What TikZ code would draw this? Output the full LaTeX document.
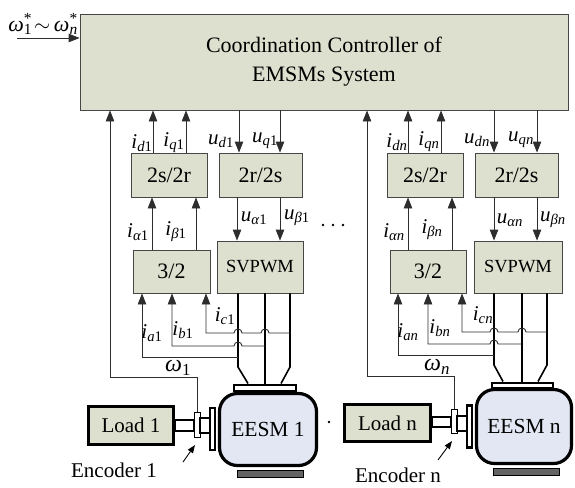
\documentclass[tikz,border=0pt]{standalone}
\usepackage{fontspec}
\setmainfont{Liberation Serif}
\usetikzlibrary{arrows.meta}

\definecolor{boxfill}{RGB}{221,224,206}
\definecolor{motorfill}{RGB}{226,231,243}
\definecolor{basefill}{RGB}{100,100,100}
\definecolor{wire}{RGB}{45,45,45}
\definecolor{edge}{RGB}{70,70,70}

% signal name: italic letter, subscript with italic part and upright index
\newcommand{\sgl}[3]{\textit{#1}\textsubscript{\textit{#2}#3}}
% reference speed: omega with a star above its subscript
\newcommand{\wref}[1]{\textit{ω}\rlap{\textsuperscript{*}}\textsubscript{#1}\hspace{0.1em}}

\begin{document}
\begin{tikzpicture}[x=1pt,y=-1pt,
  blk/.style={draw=edge,line width=0.9pt,fill=boxfill,inner sep=0pt,
    font=\fontsize{22}{29}\selectfont},
  sig/.style={font=\fontsize{21}{21}\selectfont,inner sep=0pt},
  arr/.style={draw=wire,line width=0.9pt,-{Triangle[length=11pt,width=8.5pt]}},
  phase/.style={draw=black,line width=1.6pt},
  heavy/.style={draw=black,line width=3.4pt,inner sep=0pt},
  part/.style={draw=black,line width=2pt,fill=white,inner sep=0pt},
  encarr/.style={draw=black,line width=0.9pt,-{Triangle[length=8pt,width=6pt]}},
  txt/.style={font=\fontsize{21}{21}\selectfont,inner sep=0pt},
]
\useasboundingbox (0,0) rectangle (575,487);

% ---------------- controller ----------------
\node[blk,minimum width=488pt,minimum height=96pt,align=center] (ctrl) at (324,62)
  {Coordination Controller of\\EMSMs System};
\coordinate (wsrc) at (17,38);
\draw[arr] (wsrc) -- (ctrl.west |- wsrc);
\node[sig,font=\fontsize{22}{22}\selectfont] (lwref) at (43,24)
  {\wref{1}$\sim$\,\wref{\textit{n}}};

% ---------------- drive 1 blocks ----------------
\node[blk,minimum width=76pt,minimum height=44pt] (s2r1) at (169,175) {2s/2r};
\node[blk,minimum width=83pt,minimum height=44pt] (r2s1) at (260.5,175) {2r/2s};
\node[blk,minimum width=77pt,minimum height=43pt] (t321) at (171.5,271.5) {3/2};
\node[blk,minimum width=86pt,minimum height=52pt,font=\fontsize{18.5}{20}\selectfont] (svp1) at (260,267) {SVPWM};

\draw[arr] (s2r1.north -| 153,0) -- (ctrl.south -| 153,0);
\draw[arr] (s2r1.north -| 186,0) -- (ctrl.south -| 186,0);
\draw[arr] (ctrl.south -| 239,0) -- (r2s1.north -| 239,0);
\draw[arr] (ctrl.south -| 280,0) -- (r2s1.north -| 280,0);
\draw[arr] (t321.north -| 152,0) -- (s2r1.south -| 152,0);
\draw[arr] (t321.north -| 196,0) -- (s2r1.south -| 196,0);
\draw[arr] (r2s1.south -| 237,0) -- (svp1.north -| 237,0);
\draw[arr] (r2s1.south -| 280,0) -- (svp1.north -| 280,0);

\node[sig] (lid1) at (142,143) {\sgl{i}{d}{1}};
\node[sig] (liq1) at (174,143) {\sgl{i}{q}{1}};
\node[sig] (lud1) at (221,141) {\sgl{u}{d}{1}};
\node[sig] (luq1) at (265,141) {\sgl{u}{q}{1}};
\node[sig] (lia1) at (138,232) {\sgl{i}{α}{1}};
\node[sig] (lib1) at (176,232) {\sgl{i}{β}{1}};
\node[sig] (lua1) at (254,218) {\sgl{u}{α}{1}};
\node[sig] (lub1) at (297,218) {\sgl{u}{β}{1}};

% ---------------- drive n blocks ----------------
\node[blk,minimum width=76pt,minimum height=44pt] (s2rn) at (425,175) {2s/2r};
\node[blk,minimum width=83pt,minimum height=44pt] (r2sn) at (516.5,175) {2r/2s};
\node[blk,minimum width=76pt,minimum height=43pt] (t32n) at (428,271.5) {3/2};
\node[blk,minimum width=88pt,minimum height=52pt,font=\fontsize{18.5}{20}\selectfont] (svpn) at (518,267) {SVPWM};

\draw[arr] (s2rn.north -| 408,0) -- (ctrl.south -| 408,0);
\draw[arr] (s2rn.north -| 441,0) -- (ctrl.south -| 441,0);
\draw[arr] (ctrl.south -| 494,0) -- (r2sn.north -| 494,0);
\draw[arr] (ctrl.south -| 537,0) -- (r2sn.north -| 537,0);
\draw[arr] (t32n.north -| 408,0) -- (s2rn.south -| 408,0);
\draw[arr] (t32n.north -| 452,0) -- (s2rn.south -| 452,0);
\draw[arr] (r2sn.south -| 494,0) -- (svpn.north -| 494,0);
\draw[arr] (r2sn.south -| 537,0) -- (svpn.north -| 537,0);

\node[sig] (lidn) at (397,142) {\sgl{i}{dn}{}};
\node[sig] (liqn) at (429,142) {\sgl{i}{qn}{}};
\node[sig] (ludn) at (477,140) {\sgl{u}{dn}{}};
\node[sig] (luqn) at (521,140) {\sgl{u}{qn}{}};
\node[sig] (lian) at (394,232) {\sgl{i}{αn}{}};
\node[sig] (libn) at (432,230) {\sgl{i}{βn}{}};
\node[sig] (luan) at (510,220) {\sgl{u}{αn}{}};
\node[sig] (lubn) at (553,220) {\sgl{u}{βn}{}};

% ellipses between the drives
\fill (323,225) circle (1.4) (333,225) circle (1.4) (343,225) circle (1.4);
\fill (329,422) circle (1.3);

% ---------------- machine 1 ----------------
\node[part,minimum width=19pt,minimum height=11pt] (sha1) at (184.5,425.5) {};
\node[heavy,fill=boxfill,minimum width=85pt,minimum height=38pt,font=\fontsize{21}{21}\selectfont] (load1) at (131,425.5) {Load 1};
\node[part,line width=1pt,minimum width=6pt,minimum height=25pt] (enc1) at (197,424.5) {};
\node[part,minimum width=10pt,minimum height=15pt] (shb1) at (205,425.5) {};
\node[part,line width=2.2pt,minimum width=5pt,minimum height=42pt] (fla1) at (212.5,429) {};
\node[heavy,line width=3.2pt,fill=motorfill,rounded corners=18pt,minimum width=97pt,minimum height=72pt,font=\fontsize{21.5}{21.5}\selectfont] (mot1) at (268,429.5) {EESM 1};
\node[part,minimum width=62pt,minimum height=6pt] (pla1) at (265,387.5) {};
\node[draw=black,line width=1pt,fill=basefill,inner sep=0pt,minimum width=66pt,minimum height=7pt] (bas1) at (270,473.5) {};

% phase leads 1
\draw[phase] (svp1.south -| 238,0) -- (238,367) -- (pla1.north -| 248,0);
\draw[phase] (svp1.south -| 265,0) -- (pla1.north -| 265,0);
\draw[phase] (svp1.south -| 290,0) -- (290,367) -- (pla1.north -| 281,0);

% current feedback 1 (with hops over the leads)
\draw[arr] (290,333) -- (269,333) .. controls +(0,-5.3) and +(0,-5.3) .. (261,333)
  -- (242,333) .. controls +(0,-5.3) and +(0,-5.3) .. (234,333)
  -- (206,333) -- (t321.south -| 206,0);
\draw[arr] (265,346) -- (242,346) .. controls +(0,-5.3) and +(0,-5.3) .. (234,346)
  -- (172,346) -- (t321.south -| 172,0);
\draw[arr] (238,357) -- (142,357) -- (t321.south -| 142,0);
\node[sig] (lia) at (152,333) {\sgl{i}{a}{1}};
\node[sig] (lib) at (183,330) {\sgl{i}{b}{1}};
\node[sig] (lic) at (225,316) {\sgl{i}{c}{1}};

% speed feedback 1
\draw[arr] (enc1.north) |- (110,377) -- (ctrl.south -| 110,0);
\node[sig,font=\fontsize{24}{24}\selectfont] (lw1) at (178,368) {\textit{ω}\textsubscript{1}};

% encoder 1 pointer
\coordinate (ep1) at (183,462);
\coordinate (eh1) at (195,445);
\draw[encarr] (ep1) -- (eh1);
\node[txt] (encl1) at (114,470) {Encoder 1};

% ---------------- machine n ----------------
\node[part,minimum width=19pt,minimum height=10pt] (shan) at (441.5,422) {};
\node[heavy,fill=boxfill,minimum width=86pt,minimum height=37pt,font=\fontsize{21}{21}\selectfont] (loadn) at (387.5,423) {Load n};
\node[part,line width=1pt,minimum width=6pt,minimum height=24pt] (encn) at (454,421) {};
\node[part,minimum width=10pt,minimum height=15pt] (shbn) at (462,423) {};
\node[part,line width=2.2pt,minimum width=5pt,minimum height=42pt] (flan) at (469.5,426.5) {};
\node[heavy,line width=3.2pt,fill=motorfill,rounded corners=18pt,minimum width=95pt,minimum height=74pt,font=\fontsize{21.5}{21.5}\selectfont] (motn) at (524,426.5) {EESM n};
\node[part,minimum width=61pt,minimum height=5pt] (plan) at (522,385) {};
\node[draw=black,line width=1pt,fill=basefill,inner sep=0pt,minimum width=66pt,minimum height=7pt] (basn) at (526.5,472) {};

% phase leads n
\draw[phase] (svpn.south -| 494,0) -- (494,365) -- (plan.north -| 503,0);
\draw[phase] (svpn.south -| 522,0) -- (plan.north -| 522,0);
\draw[phase] (svpn.south -| 547,0) -- (547,365) -- (plan.north -| 538,0);

% current feedback n
\draw[arr] (547,332) -- (526,332) .. controls +(0,-5.3) and +(0,-5.3) .. (518,332)
  -- (498,332) .. controls +(0,-5.3) and +(0,-5.3) .. (490,332)
  -- (462,332) -- (t32n.south -| 462,0);
\draw[arr] (522,344) -- (498,344) .. controls +(0,-5.3) and +(0,-5.3) .. (490,344)
  -- (428,344) -- (t32n.south -| 428,0);
\draw[arr] (494,355) -- (398,355) -- (t32n.south -| 398,0);
\node[sig] (lian2) at (408,332) {\sgl{i}{an}{}};
\node[sig] (libn2) at (440,328) {\sgl{i}{bn}{}};
\node[sig] (licn) at (483,315) {\sgl{i}{cn}{}};

% speed feedback n
\draw[arr] (encn.north) |- (367,376) -- (ctrl.south -| 367,0);
\node[sig,font=\fontsize{24}{24}\selectfont] (lwn) at (437,367) {\textit{ω}\textsubscript{\textit{n}}};

% encoder n pointer
\coordinate (epn) at (438,460);
\coordinate (ehn) at (452,441);
\draw[encarr] (epn) -- (ehn);
\node[txt] (encln) at (398,475.5) {Encoder n};
\end{tikzpicture}
\end{document}
